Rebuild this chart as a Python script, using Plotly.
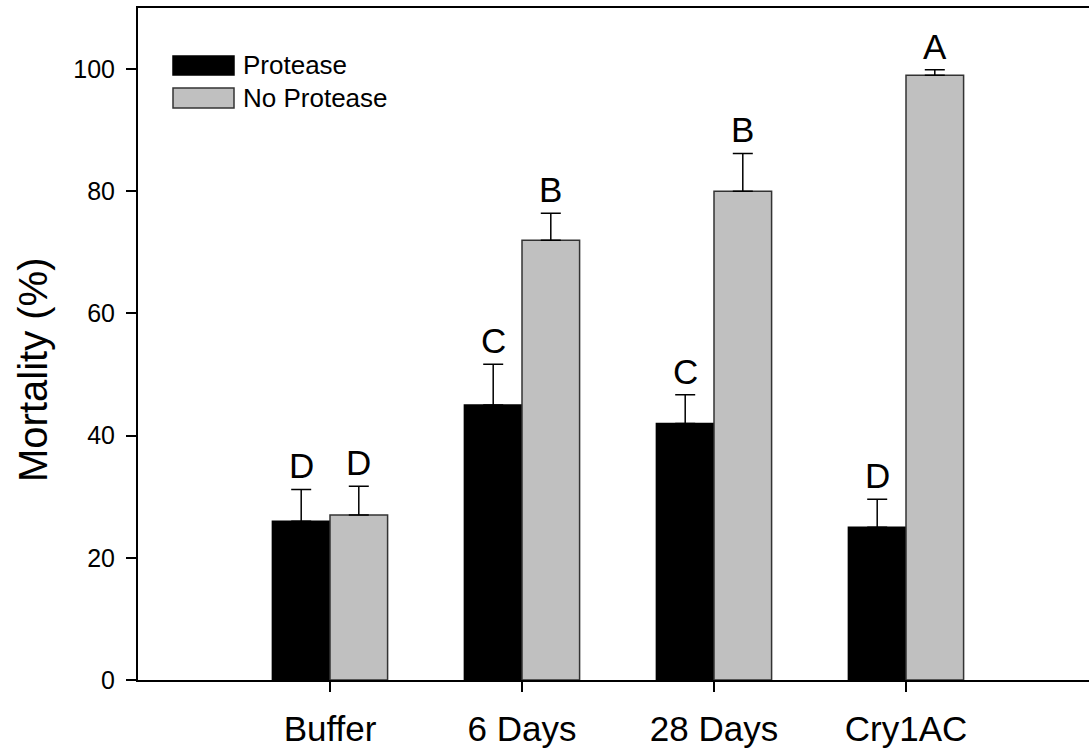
import plotly.graph_objects as go

# Treatment groups and mortality data (%)
categories = ["Buffer", "6 Days", "28 Days", "Cry1AC"]
protease = [26, 45, 42, 25]
protease_err = [5.2, 6.7, 4.7, 4.6]
no_protease = [27, 72, 80, 99]
no_protease_err = [4.7, 4.4, 6.2, 0.9]
letters_protease = ["D", "C", "C", "D"]
letters_no_protease = ["D", "B", "B", "A"]

FONT = "Liberation Sans, Arial, sans-serif"
W, H = 1089, 750
ML, MR, MT, MB = 138, 0, 8, 70
PW, PH = W - ML - MR, H - MT - MB

x_idx = list(range(len(categories)))

fig = go.Figure()
fig.add_trace(go.Bar(
    name="Protease", x=x_idx, y=protease,
    marker=dict(color="black", line=dict(color="black", width=1.5)),
    error_y=dict(type="data", array=protease_err, arrayminus=[0] * 4,
                 symmetric=False, color="black", thickness=1.5, width=10),
))
fig.add_trace(go.Bar(
    name="No Protease", x=x_idx, y=no_protease,
    marker=dict(color="#c0c0c0", line=dict(color="#333333", width=1.5)),
    error_y=dict(type="data", array=no_protease_err, arrayminus=[0] * 4,
                 symmetric=False, color="black", thickness=1.5, width=10),
))

# Significance letters above each error bar
annotations = []
for i, (v, e, t) in enumerate(zip(protease, protease_err, letters_protease)):
    annotations.append(dict(x=i - 0.15, y=v + e, text=t, showarrow=False,
                            xanchor="center", yanchor="bottom", yshift=2,
                            font=dict(family=FONT, size=35, color="black")))
for i, (v, e, t) in enumerate(zip(no_protease, no_protease_err, letters_no_protease)):
    annotations.append(dict(x=i + 0.15, y=v + e, text=t, showarrow=False,
                            xanchor="center", yanchor="bottom", yshift=2,
                            font=dict(family=FONT, size=35, color="black")))

# Y axis title
annotations.append(dict(xref="paper", yref="paper", x=0, y=(680 - 370) / 672,
                        xshift=-105, text="Mortality (%)", textangle=-90,
                        showarrow=False, xanchor="center", yanchor="middle",
                        font=dict(family=FONT, size=40, color="black")))


def px_x(p):
    return (p - ML) / PW


def px_y(p):
    return (H - MB - p) / PH


# Legend drawn as swatches with labels
shapes = []
legend_items = [("Protease", "black", "black", 56, 75),
                ("No Protease", "#c0c0c0", "#333333", 88, 108)]
for label, fill, edge, top, bot in legend_items:
    shapes.append(dict(type="rect", xref="paper", yref="paper",
                       x0=px_x(173), x1=px_x(234), y0=px_y(bot), y1=px_y(top),
                       fillcolor=fill, line=dict(color=edge, width=1.5)))
    annotations.append(dict(xref="paper", yref="paper", x=px_x(241),
                            y=px_y((top + bot) / 2), text=label, showarrow=False,
                            xanchor="left", yanchor="middle",
                            font=dict(family=FONT, size=26, color="black")))

fig.update_layout(
    width=W, height=H,
    margin=dict(l=ML, r=MR, t=MT, b=MB),
    paper_bgcolor="white", plot_bgcolor="white",
    barmode="group", bargap=0.4, bargroupgap=0,
    showlegend=False,
    annotations=annotations, shapes=shapes,
    font=dict(family=FONT, color="black"),
)
fig.update_xaxes(
    range=[-1, (W - ML - MR) / 192 - 1],
    tickmode="array", tickvals=x_idx, ticktext=categories,
    tickfont=dict(family=FONT, size=35, color="black"),
    ticks="outside", ticklen=10, tickwidth=1.5, tickcolor="black",
    showline=True, linecolor="black", linewidth=2, mirror=True,
    showgrid=False, zeroline=False, ticklabelstandoff=7,
)
fig.update_yaxes(
    range=[0, 110],
    tickvals=[0, 20, 40, 60, 80, 100],
    tickfont=dict(family=FONT, size=25, color="black"),
    ticks="outside", ticklen=10, tickwidth=1.5, tickcolor="black",
    showline=True, linecolor="black", linewidth=2,
    showgrid=False, zeroline=False, ticklabelstandoff=6,
)

fig.write_html("out.html")
